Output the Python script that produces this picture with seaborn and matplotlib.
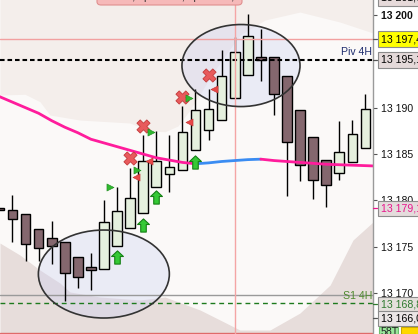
import numpy as np
import pandas as pd
import matplotlib
matplotlib.use("Agg")
import matplotlib.pyplot as plt
import seaborn as sns
from matplotlib.patches import Ellipse, FancyBboxPatch, Rectangle
from matplotlib.path import Path
from matplotlib.markers import MarkerStyle
from matplotlib.ticker import FuncFormatter, FixedLocator

# ---------------- data ----------------
candle_x = list(range(-1, 28))
opens  = [13179.05, 13179.0, 13178.5, 13176.9, 13175.9, 13175.5, 13173.9, 13172.8, 13172.6, 13175.1,
          13177.0, 13178.6, 13181.5, 13182.8, 13183.25, 13185.4, 13187.6, 13188.7, 13191.0, 13193.5,
          13195.5, 13195.45, 13193.4, 13189.8, 13186.8, 13184.4, 13183.0, 13184.1, 13185.7]
highs  = [13179.05, 13180.6, 13178.5, 13176.9, 13177.8, 13175.5, 13173.9, 13174.3, 13180.0, 13181.5,
          13183.5, 13187.1, 13187.5, 13187.1, 13190.2, 13192.0, 13192.0, 13196.2, 13197.6, 13200.1,
          13198.5, 13195.45, 13193.4, 13189.8, 13186.8, 13184.4, 13188.6, 13188.7, 13191.5]
lows   = [13178.95, 13175.5, 13173.5, 13173.5, 13173.1, 13169.1, 13170.6, 13170.3, 13172.6, 13175.1,
          13177.0, 13178.6, 13181.5, 13180.9, 13183.25, 13185.4, 13186.5, 13188.7, 13191.0, 13193.5,
          13192.9, 13189.2, 13180.5, 13182.1, 13180.2, 13179.3, 13182.2, 13184.1, 13185.7]
closes = [13178.95, 13178.0, 13175.3, 13174.9, 13175.1, 13172.2, 13171.7, 13172.5, 13177.7, 13178.9,
          13180.3, 13184.3, 13184.2, 13183.6, 13187.4, 13189.75, 13189.9, 13193.4, 13196.0, 13197.7,
          13195.15, 13191.45, 13186.3, 13183.8, 13182.2, 13181.7, 13185.2, 13187.2, 13189.9]

ma_x = [-1, 0, 1, 2, 3, 4, 5, 6, 7, 8, 9, 10, 11, 12, 13, 14, 15, 16, 17, 18, 19,
        20, 21, 22, 23, 24, 25, 26, 27, 27.6]
ma_y = [13191.2, 13190.6, 13190.0, 13189.4, 13188.6, 13187.9, 13187.3, 13186.6, 13186.2, 13185.8,
        13185.4, 13185.0, 13184.6, 13184.35, 13184.1, 13183.95, 13184.05, 13184.2, 13184.3, 13184.4,
        13184.45, 13184.3, 13184.2, 13184.1, 13184.0, 13183.9, 13183.85, 13183.8, 13183.75, 13183.72]

upper_band_x = [-0.956, 0.956, 2.10, 2.87, 5.16, 8.99, 10.52, 11.67, 12.66, 13.58, 15.49, 17.40,
                19.32, 21.99, 25.06, 27.58]
upper_band_y = [13191.37, 13191.45, 13190.65, 13189.21, 13188.67, 13188.35, 13187.49, 13187.41,
                13188.03, 13189.75, 13194.07, 13197.84, 13199.46, 13200.32, 13199.24, 13198.06]
lower_band_x = [-0.956, 0.57, 2.10, 3.63, 4.40, 6.69, 9.76, 11.67, 14.35, 15.88, 17.40, 19.70,
                21.99, 24.30, 26.05, 27.58]
lower_band_y = [13175.4, 13174.11, 13172.49, 13171.09, 13170.12, 13169.58, 13169.26, 13169.58,
                13168.18, 13167.10, 13166.02, 13166.02, 13167.85, 13170.87, 13175.73, 13177.67]

buy_arrow_x = [8, 10, 11, 14]
buy_arrow_y = [13173.93, 13177.4, 13180.37, 13184.14]
cross_x = [9, 10, 13, 15]
cross_y = [13184.54, 13188.06, 13191.19, 13193.53]
green_tri_x = [7.46, 9.56, 10.56, 13.5]
green_tri_y = [13181.5, 13183.28, 13187.41, 13191.01]
red_tri_x = [9.45, 10.48, 13.47, 15.44]
red_tri_y = [13182.49, 13184.2, 13188.51, 13191.98]

pivot_level = 13195.15
s1_level = 13168.9
red_level = 13197.38
gray_level = 13169.8
bottom_level = 13165.75
cursor_x = 17

yticks = [13170, 13175, 13180, 13185, 13190, 13200]
label_vals = [13201.85, 13197.4, 13195.15, 13179.15, 13168.8, 13167.28]
label_txts = ["13 201,6", "13 197,4", "13 195,1", "13 179,1", "13 168,8", "13 166,0"]
label_fc = ["#e6dada", "#ffff00", "#e4d9d9", "#e4dcdc", "#e4e0dc", "#ebe6e6"]
label_tc = ["black", "black", "black", "#e8168c", "#2f7a2f", "black"]

# ---------------- figure ----------------
sns.set_theme(style="white")
plt.rcParams['font.family'] = ['Liberation Sans', 'DejaVu Sans']

fig = plt.figure(figsize=(4.18, 3.34), dpi=100)
fig.patch.set_facecolor("white")
ax = fig.add_axes([0, 0, 373 / 418, 1])
ax.set_facecolor("#fbf9f8")
XMIN, XMAX = -0.956, 27.58
YMIN, YMAX = 13165.59, 13201.62
ax.set_xlim(XMIN, XMAX)
ax.set_ylim(YMIN, YMAX)

# background bands
ax.fill_between(upper_band_x, upper_band_y, YMAX + 1, color="#f4eeeb", lw=0, zorder=0.2)
ax.fill_between(lower_band_x, YMIN - 1, lower_band_y, color="#e7dddb", lw=0, zorder=0.2)

# horizontal / vertical levels
ax.axhline(red_level, color="#f2a0a0", lw=1, zorder=4.5)
ax.axhline(pivot_level, color="black", lw=1.5, dashes=(2.2, 1.4), zorder=4.5)
ax.axhline(gray_level, color="#9a9a9a", lw=1, zorder=1)
ax.axhline(s1_level, color="#1d7a1d", lw=1, dashes=(3.5, 2.8), zorder=1.1)
ax.axhline(bottom_level, color="#e06a6a", lw=1, zorder=1)
ax.axvline(cursor_x, color="#f4a5a5", lw=1, zorder=4.5)

# ellipse fills (behind candles)
ellipses = [(6.99, 13172.06, 10.02, 9.49), (17.48, 13194.55, 9.03, 8.85)]
for (cx, cy, w, h) in ellipses:
    ax.add_patch(Ellipse((cx, cy), w, h, facecolor=(0.80, 0.82, 0.95, 0.35),
                         edgecolor="none", zorder=0.5))

# candles
for x, o, h, l, c in zip(candle_x, opens, highs, lows, closes):
    ax.vlines(x, l, h, color="black", lw=1, zorder=3)
    bull = c > o
    bottom = min(o, c)
    height = max(abs(c - o), 0.2)
    ax.bar(x, height, bottom=bottom, width=0.74,
           color="#e5f0de" if bull else "#84676e",
           edgecolor="black", linewidth=1, zorder=4)

# moving average (pink falling, blue rising)
ma_y_arr = np.array(ma_y)
d = np.diff(ma_y_arr)
segs = []
start = 0
for i in range(1, len(d)):
    if (d[i] > 0) != (d[i - 1] > 0):
        segs.append((start, i, d[i - 1] > 0))
        start = i
segs.append((start, len(ma_y) - 1, d[-1] > 0))
for s, e, up in segs:
    sns.lineplot(x=ma_x[s:e + 1], y=ma_y[s:e + 1], color="#3a8cf2" if up else "#ff1c9c",
                 lw=2, ax=ax, sort=False, zorder=5)

# ellipse outlines (on top)
for (cx, cy, w, h) in ellipses:
    ax.add_patch(Ellipse((cx, cy), w, h, facecolor="none",
                         edgecolor="#333333", lw=1.2, zorder=4.6))

# signals
arrow_path = Path([(0, 1), (-0.9, 0.15), (-0.42, 0.15), (-0.42, -1), (0.42, -1),
                   (0.42, 0.15), (0.9, 0.15), (0, 1)],
                  [Path.MOVETO] + [Path.LINETO] * 6 + [Path.CLOSEPOLY])
sns.scatterplot(x=buy_arrow_x, y=buy_arrow_y, marker=MarkerStyle(arrow_path), s=90,
                color="#35c935", edgecolor="#158015", linewidth=0.8, ax=ax, zorder=6, legend=False)
sns.scatterplot(x=cross_x, y=cross_y, marker="X", s=90, color="#e85a5c",
                edgecolor="#c23a3a", linewidth=0.6, ax=ax, zorder=6, legend=False)
sns.scatterplot(x=green_tri_x, y=green_tri_y, marker=">", s=26, color="#2fb82f",
                edgecolor="#1d8a1d", linewidth=0.4, ax=ax, zorder=6, legend=False)
sns.scatterplot(x=red_tri_x, y=red_tri_y, marker="<", s=26, color="#e84848",
                edgecolor="#c03030", linewidth=0.4, ax=ax, zorder=6, legend=False)

# level captions
ax.text(0.997, pivot_level + 0.35, "Piv 4H", transform=ax.get_yaxis_transform(),
        ha="right", va="bottom", fontsize=7.6, color="#1f2d6e", zorder=7)
ax.text(0.997, s1_level + 0.3, "S1 4H", transform=ax.get_yaxis_transform(),
        ha="right", va="bottom", fontsize=7.6, color="#4f8a2f", zorder=7)

# axis styling
ax.set_xticks([])
for sp in ["left", "top", "bottom"]:
    ax.spines[sp].set_visible(False)
ax.spines["right"].set_color("#9a9a9a")
ax.spines["right"].set_linewidth(1)
ax.spines["right"].set_zorder(8)
ax.yaxis.tick_right()
ax.yaxis.set_major_locator(FixedLocator(yticks))
ax.yaxis.set_major_formatter(FuncFormatter(lambda v, p: f"{int(round(v)):,}".replace(",", " ")))
ax.tick_params(axis="y", which="major", right=True, length=3, width=0.8, color="#555555",
               pad=3, labelsize=7.6, labelcolor="#111111")
ax.set_axisbelow(True)
ax.set_xlabel("")
ax.set_ylabel("")
fig.canvas.draw()
for t in ax.get_yticklabels():
    if t.get_text() == "13 200":
        t.set_fontweight("bold")

# right-hand value boxes
trans = ax.get_yaxis_transform()
for v, txt, fc, tc in zip(label_vals, label_txts, label_fc, label_tc):
    ax.text(381 / 373, v, txt, transform=trans, ha="left", va="center", fontsize=7.6,
            color=tc, clip_on=False, zorder=10,
            bbox=dict(boxstyle="square,pad=0.25", fc=fc, ec="#8c8c8c", lw=0.8))
    ax.plot([1.0, 1.012], [v, v], transform=trans, color=tc if tc != "black" else "#555555",
            lw=0.9, clip_on=False, zorder=9)

# top-left info box (mostly cut off)
fig.patches.append(FancyBboxPatch((97 / 418, (334 - 5) / 334), 145 / 418, 20 / 334,
                                  boxstyle="round,pad=0,rounding_size=0.01",
                                  transform=fig.transFigure, fc="#f6b9b9", ec="#e08f8f",
                                  lw=0.8, zorder=20))
fig.text(100 / 418, (334 + 3) / 334, "13 182,6 | 13 198,4 | 13 186,2", fontsize=7.6,
         color="#222222", ha="left", va="center", zorder=21)

# bottom-right status boxes
fig.patches.append(Rectangle((379 / 418, 0), 19 / 418, 7.5 / 334, transform=fig.transFigure,
                             fc="#9be89b", ec="#6cbf6c", lw=0.8, zorder=20))
fig.text(381 / 418, -3 / 334, "58T", fontsize=7.6, color="#222222", ha="left",
         va="bottom", zorder=21)
fig.patches.append(Rectangle((400.5 / 418, 0), 20 / 418, 7.5 / 334, transform=fig.transFigure,
                             fc="#ffd700", ec="#c9a900", lw=0.8, zorder=20))

fig.savefig("out.png", dpi=100)
